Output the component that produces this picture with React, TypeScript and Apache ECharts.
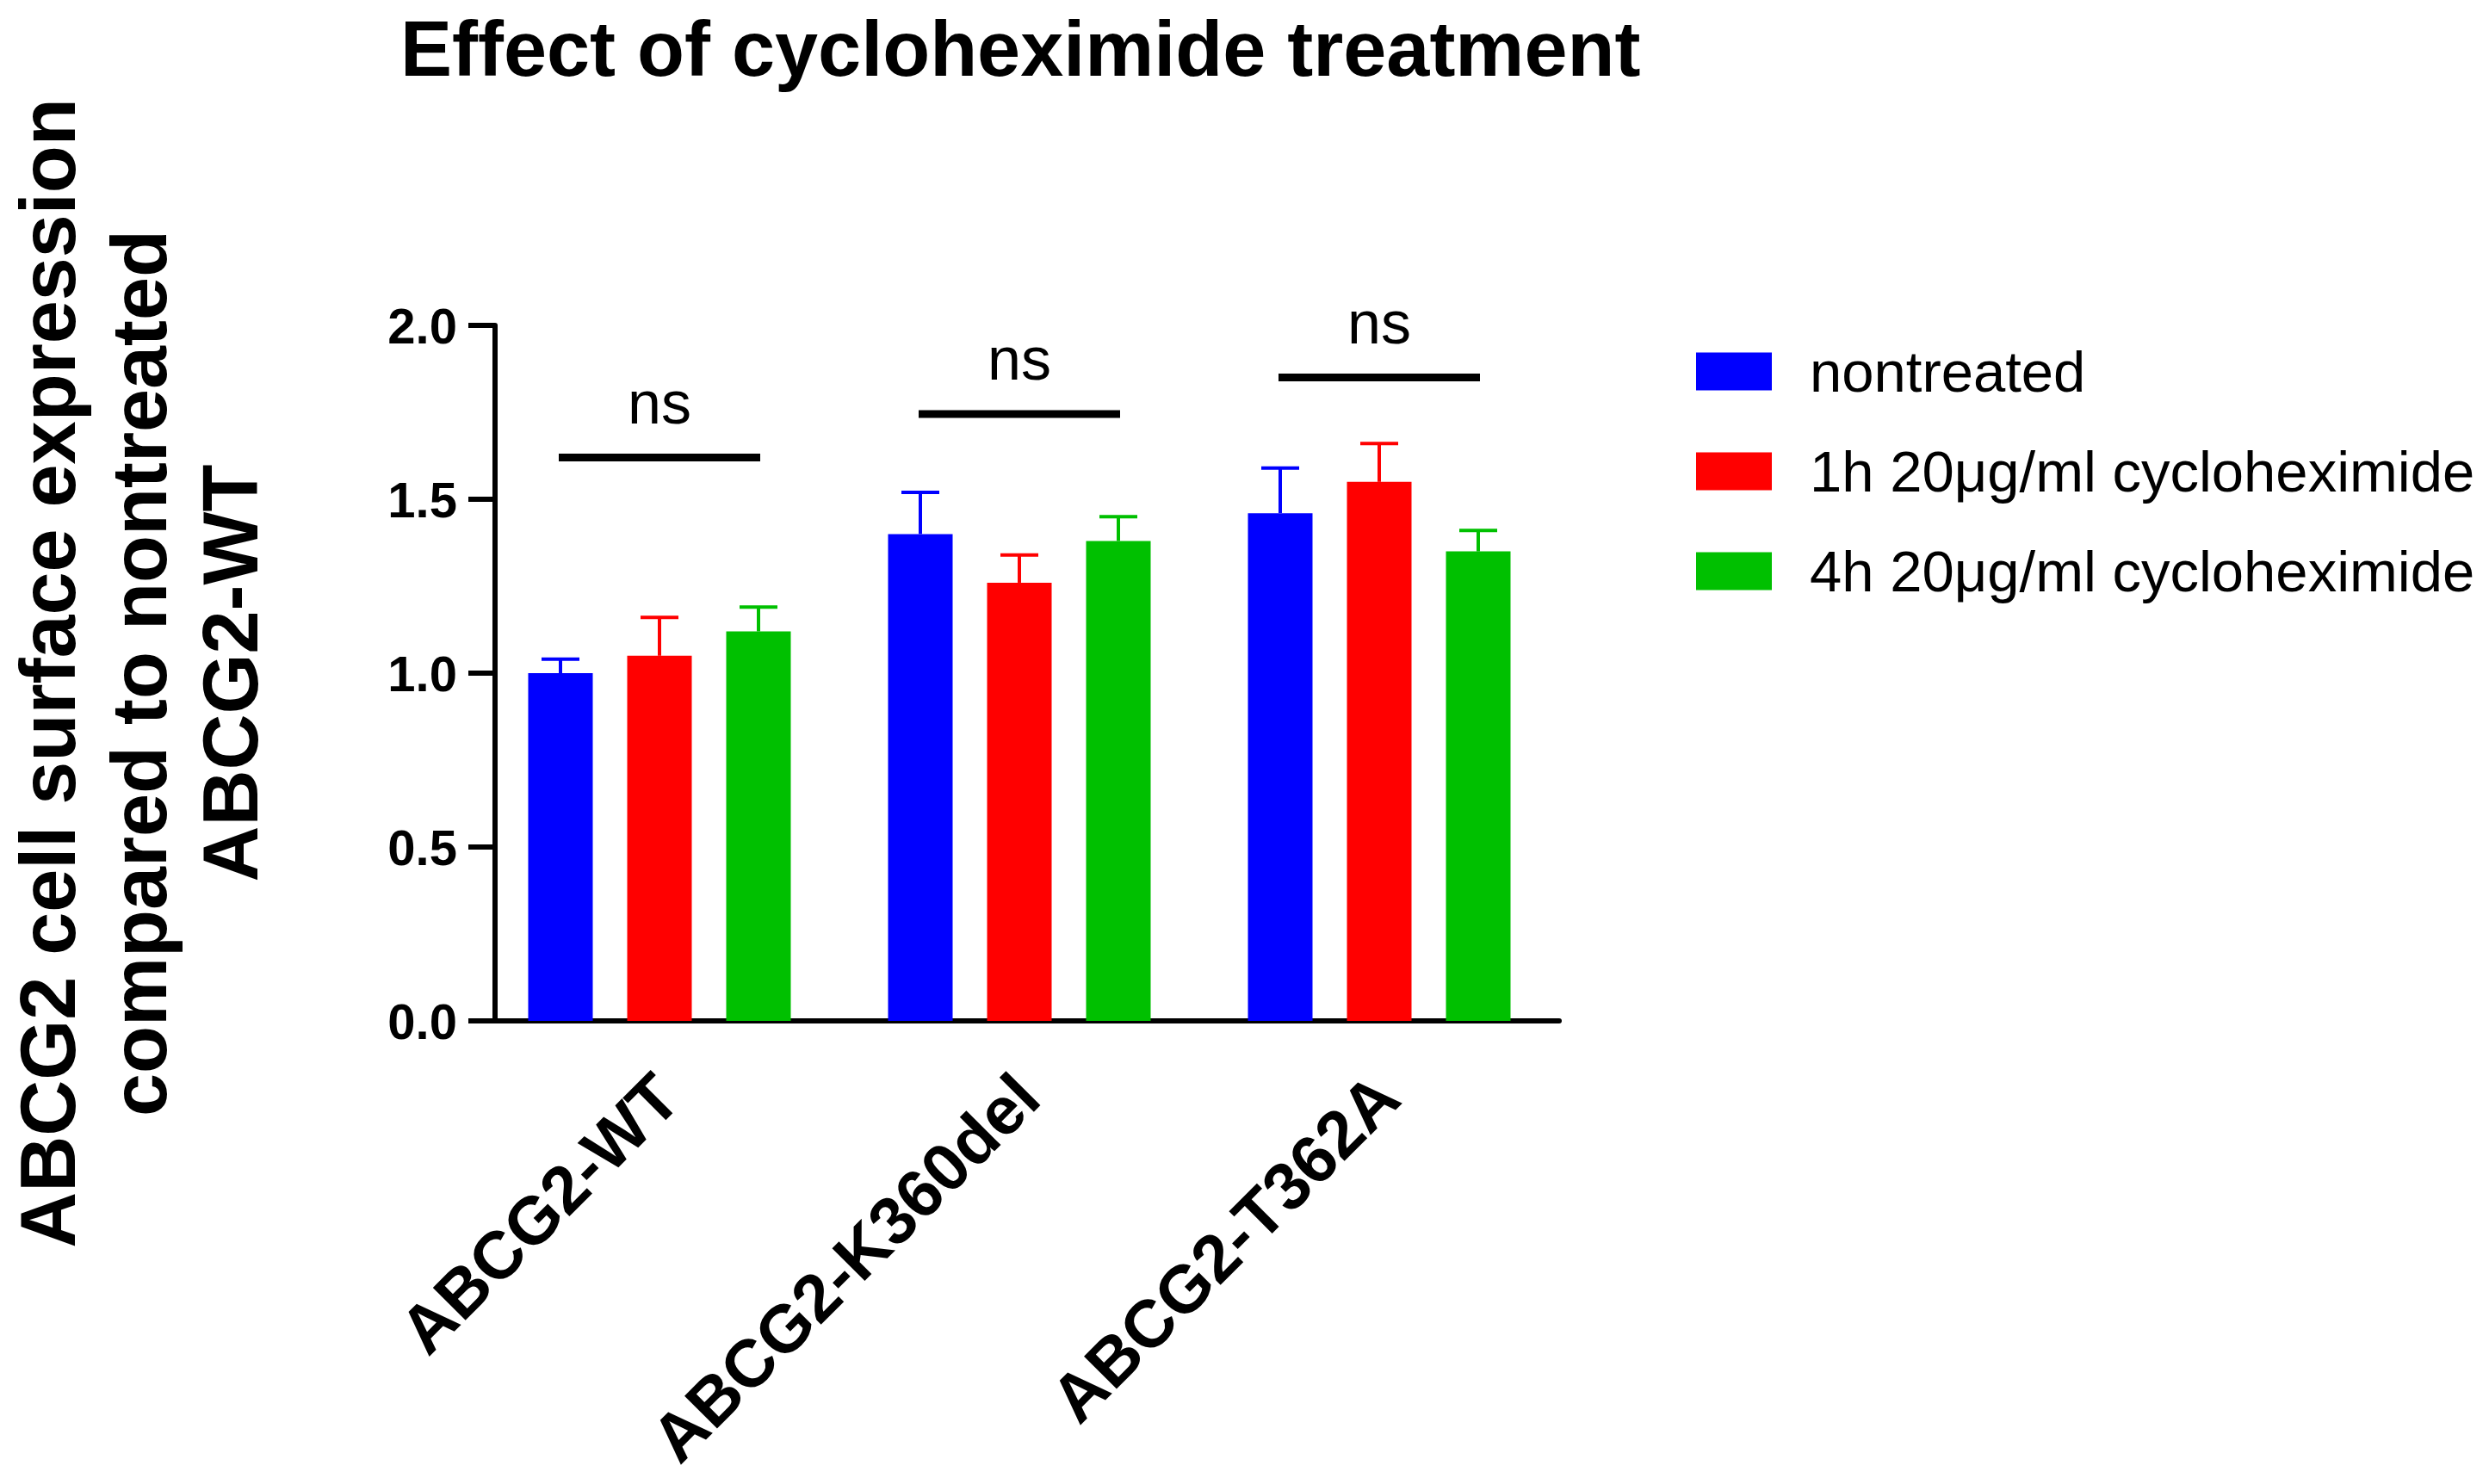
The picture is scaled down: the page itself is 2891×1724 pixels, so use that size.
import React, { useEffect, useRef } from 'react';
import * as echarts from 'echarts';

const categories = ['ABCG2-WT', 'ABCG2-K360del', 'ABCG2-T362A'];
const seriesNames = ['nontreated', '1h 20μg/ml cycloheximide', '4h 20μg/ml cycloheximide'];
const seriesColors = ['#0000FF', '#FF0000', '#00C000'];
const nontreated = [1.0, 1.4, 1.46];
const h1 = [1.05, 1.26, 1.55];
const h4 = [1.12, 1.38, 1.35];
const nontreatedErr = [0.04, 0.12, 0.13];
const h1Err = [0.11, 0.08, 0.11];
const h4Err = [0.07, 0.07, 0.06];
const sigLevels = [1.62, 1.745, 1.85];
const sigLabels = ['ns', 'ns', 'ns'];
const yTicks = [0, 0.5, 1, 1.5, 2];

const FONT = '"Liberation Sans", Arial, sans-serif';
const BAR_W = 75;
const BAR_GAP = 40;

export default function App() {
    const chartRef = useRef<HTMLDivElement>(null);

    useEffect(() => {
        if (!chartRef.current) return;
        document.body.style.margin = '0';
        const chart = echarts.init(chartRef.current, null, { renderer: 'svg' });

        const means = [nontreated, h1, h4];
        const errs = [nontreatedErr, h1Err, h4Err];

        const bars = means.map((vals, i) => ({
            name: seriesNames[i],
            type: 'bar',
            data: vals,
            barWidth: BAR_W,
            barGap: (BAR_GAP / BAR_W) * 100 + '%',
            itemStyle: { color: seriesColors[i] },
        }));

        // error bars (upper only), drawn on top of each bar
        const errorSeries = means.map((vals, i) => ({
            type: 'custom',
            name: 'err' + i,
            z: 3,
            data: vals.map((v, c) => [c, v, errs[i][c]]),
            renderItem: (params: any, api: any) => {
                const off = (i - 1) * (BAR_W + BAR_GAP);
                const base = api.coord([api.value(0), api.value(1)]);
                const top = api.coord([api.value(0), api.value(1) + api.value(2)]);
                const x = base[0] + off;
                const style = { stroke: seriesColors[i], lineWidth: 4 };
                return {
                    type: 'group',
                    children: [
                        { type: 'line', shape: { x1: x, y1: base[1], x2: x, y2: top[1] }, style },
                        { type: 'line', shape: { x1: x - 22, y1: top[1], x2: x + 22, y2: top[1] }, style },
                    ],
                };
            },
        }));

        const sigSeries = {
            type: 'custom',
            name: 'sig',
            z: 3,
            data: sigLevels.map((v, c) => [c, v]),
            renderItem: (params: any, api: any) => {
                const p = api.coord([api.value(0), api.value(1)]);
                return {
                    type: 'group',
                    children: [
                        {
                            type: 'line',
                            shape: { x1: p[0] - 117, y1: p[1], x2: p[0] + 117, y2: p[1] },
                            style: { stroke: '#000', lineWidth: 9 },
                        },
                        {
                            type: 'text',
                            style: {
                                text: sigLabels[params.dataIndex],
                                x: p[0],
                                y: p[1] - 64,
                                textAlign: 'center',
                                textVerticalAlign: 'middle',
                                fontSize: 70,
                                fontFamily: FONT,
                                fill: '#000',
                            },
                        },
                    ],
                };
            },
        };

        const option = {
            animation: false,
            backgroundColor: '#fff',
            title: {
                text: 'Effect of cycloheximide treatment',
                left: 465,
                top: 13,
                padding: 0,
                textStyle: { fontSize: 90, fontWeight: 'bold', lineHeight: 88, color: '#000', fontFamily: FONT },
            },
            legend: {
                data: seriesNames,
                orient: 'vertical',
                left: 1965,
                top: 393,
                itemWidth: 88,
                itemHeight: 44,
                itemGap: 49,
                icon: 'rect',
                selectedMode: false,
                textStyle: { fontSize: 67, lineHeight: 66, color: '#000', fontFamily: FONT, padding: [0, 0, 0, 39] },
            },
            grid: { left: 557, right: 1080, top: 378, bottom: 538, containLabel: false, outerBoundsMode: 'none' },
            xAxis: {
                type: 'category',
                data: categories,
                axisLine: { lineStyle: { color: '#000', width: 6 } },
                axisTick: { alignWithLabel: true, length: 31, lineStyle: { color: '#000', width: 6 } },
                axisLabel: {
                    interval: 0,
                    rotate: 45,
                    margin: 66,
                    verticalAlign: 'top',
                    lineHeight: 26,
                    fontSize: 78,
                    fontWeight: 'bold',
                    color: '#000',
                    fontFamily: FONT,
                },
            },
            yAxis: {
                type: 'value',
                min: yTicks[0],
                max: yTicks[yTicks.length - 1],
                interval: 0.5,
                offset: -18,
                axisLine: { show: true, lineStyle: { color: '#000', width: 6 } },
                axisTick: { show: true, length: 31, lineStyle: { color: '#000', width: 6 } },
                splitLine: { show: false },
                axisLabel: {
                    margin: 44,
                    fontSize: 58,
                    fontWeight: 'bold',
                    color: '#000',
                    fontFamily: FONT,
                    formatter: (v: number) => v.toFixed(1),
                },
            },
            graphic: [
                {
                    type: 'text',
                    x: 162,
                    y: 782,
                    rotation: Math.PI / 2,
                    style: {
                        text: 'ABCG2 cell surface expression\ncompared to nontreated\nABCG2-WT',
                        textAlign: 'center',
                        textVerticalAlign: 'middle',
                        fontSize: 90,
                        lineHeight: 106,
                        fontWeight: 'bold',
                        fontFamily: FONT,
                        fill: '#000',
                    },
                },
            ],
            series: [...bars, ...errorSeries, sigSeries],
        };

        chart.setOption(option);

        const handleResize = () => chart.resize();
        window.addEventListener('resize', handleResize);
        return () => {
            window.removeEventListener('resize', handleResize);
            chart.dispose();
        };
    }, []);

    return <div ref={chartRef} style={{ width: '2891px', height: '1724px' }} />;
}
